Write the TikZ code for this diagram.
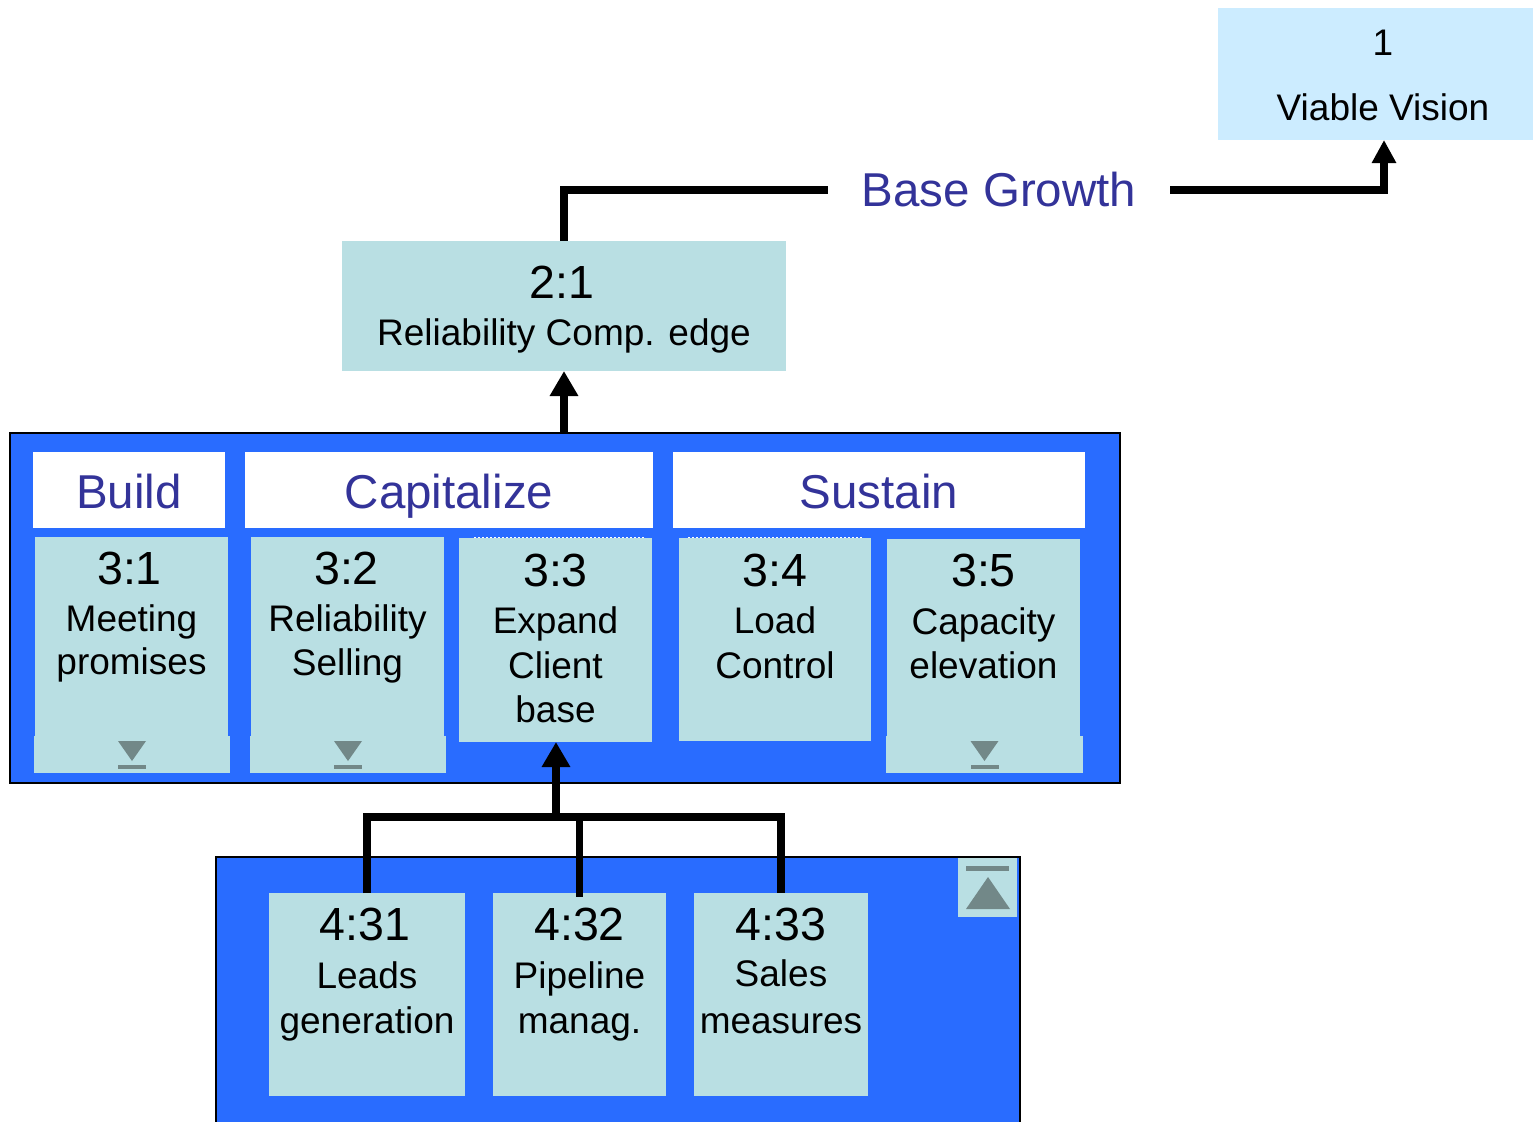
\documentclass[tikz,border=0pt]{standalone}
\usepackage{fontspec}
\setmainfont{Liberation Sans}
\usetikzlibrary{arrows.meta}
\definecolor{panelblue}{RGB}{41,108,255}
\definecolor{boxteal}{HTML}{B9DFE3}
\definecolor{visionblue}{HTML}{CCECFF}
\definecolor{hdrblue}{HTML}{333399}
\definecolor{icongray}{HTML}{728888}

\begin{document}
\begin{tikzpicture}[x=1pt,y=-1pt,
  panel/.style={draw=black, line width=2pt, fill=panelblue, inner sep=0pt, outer sep=0pt, rectangle},
  box/.style={fill=boxteal, inner sep=0pt, outer sep=0pt, rectangle},
  hdrbox/.style={fill=white, inner sep=0pt, outer sep=0pt, minimum height=76pt},
  num/.style={anchor=base, inner sep=0pt, font=\fontsize{46.5}{54}\selectfont},
  body/.style={anchor=base, inner sep=0pt, font=\fontsize{37}{44}\selectfont},
  hdr/.style={anchor=base, inner sep=0pt, text=hdrblue, font=\fontsize{47.5}{56}\selectfont},
  conn/.style={draw=black, line width=7.5pt},
  tip/.style={-{Triangle[width=27pt,length=25pt]}},
  smalltip/.style={-{Triangle[width=23pt,length=23pt]}},
  icon/.style={fill=icongray},
  dotedge/.style={draw=white, line width=1.5pt, dash pattern=on 2pt off 2pt}]

\useasboundingbox (0,0) rectangle (1533,1121);
\clip (0,0) rectangle (1533,1121);

% ---------- level 1 ----------
\node[box, fill=visionblue, minimum width=332pt, minimum height=132pt] (vv) at (1384,74) {};
\node[body] (vvnum) at (1383,56) {1};
\node[body] (vvtxt) at (1383,121) {Viable Vision};

\node[inner sep=0pt, outer sep=0pt, minimum width=342pt, minimum height=34pt,
      text=hdrblue, font=\fontsize{47.5}{56}\selectfont] (bg) at (999,190) {Base Growth};

% ---------- level 2 ----------
\node[box, minimum width=444pt, minimum height=130pt] (b21) at (564,306) {};
\node[num] (b21num) at (562,298) {2:1};
\node[body] (b21txt) at (564,345) {Reliability Comp. edge};

% ---------- level 3 panel ----------
\node[panel, minimum width=1110pt, minimum height=350pt] (p3) at (565,608) {};

\node[hdrbox, minimum width=192pt] (hbuild) at (129,490) {};
\node[hdrbox, minimum width=408pt] (hcap) at (449,490) {};
\node[hdrbox, minimum width=412pt] (hsus) at (879,490) {};
\node[hdr] (tbuild) at (129,508) {Build};
\node[hdr] (tcap) at (449,508) {Capitalize};
\node[hdr] (tsus) at (879,508) {Sustain};

% boxes with a drop-down strip underneath
\node[box, minimum width=193pt, minimum height=199pt] (b31) at (131.5,636.5) {};
\node[box, minimum width=196pt, minimum height=37pt] (s31) at (132,754.5) {};
\node[box, minimum width=193pt, minimum height=199pt] (b32) at (347.5,636.5) {};
\node[box, minimum width=196pt, minimum height=37pt] (s32) at (348,754.5) {};
\node[box, minimum width=193pt, minimum height=204pt] (b33) at (555.5,640) {};
\node[box, minimum width=192pt, minimum height=203pt] (b34) at (775,639.5) {};
\node[box, minimum width=193pt, minimum height=197pt] (b35) at (983.5,637.5) {};
\node[box, minimum width=197pt, minimum height=37pt] (s35) at (984.5,754.5) {};

\draw[dotedge] (474,537.5) -- (645,537.5);
\draw[dotedge] (688,537.5) -- (862,537.5);

\foreach \s in {s31,s32,s35}{
  \fill[icon] ([shift={(-14,-13.5)}]\s.center) -- ([shift={(14,-13.5)}]\s.center)
              -- ([shift={(0,6.5)}]\s.center) -- cycle;
  \fill[icon] ([shift={(-14,10.5)}]\s.center) rectangle ([shift={(14,14)}]\s.center);
}

\node[num] (n31) at (129.5,584) {3:1};
\node[body] (t31a) at (131.5,631) {Meeting};
\node[body] (t31b) at (131.5,674) {promises};

\node[num] (n32) at (346.5,584) {3:2};
\node[body] (t32a) at (347.5,631) {Reliability};
\node[body] (t32b) at (347.5,675) {Selling};

\node[num] (n33) at (555.5,586) {3:3};
\node[body] (t33a) at (555.5,633) {Expand};
\node[body] (t33b) at (555.5,678) {Client};
\node[body] (t33c) at (555.5,722) {base};

\node[num] (n34) at (775,586) {3:4};
\node[body] (t34a) at (775,633) {Load};
\node[body] (t34b) at (775,678) {Control};

\node[num] (n35) at (983.5,586) {3:5};
\node[body] (t35a) at (983.5,634) {Capacity};
\node[body] (t35b) at (983.5,678) {elevation};

% ---------- level 4 panel ----------
\node[panel, minimum width=804pt, minimum height=300pt] (p4) at (618,1007) {};

\node[box, minimum width=59pt, minimum height=59pt] (up) at (987.5,887.5) {};
\fill[icon] ([shift={(-21.5,-21.5)}]up.center) rectangle ([shift={(21.5,-16.5)}]up.center);
\fill[icon] ([shift={(0.5,-10.5)}]up.center) -- ([shift={(22.5,21.5)}]up.center)
            -- ([shift={(-21.5,21.5)}]up.center) -- cycle;

\node[box, minimum width=196pt, minimum height=203pt] (b431) at (367,994.5) {};
\node[box, minimum width=173pt, minimum height=203pt] (b432) at (579.5,994.5) {};
\node[box, minimum width=174pt, minimum height=203pt] (b433) at (781,994.5) {};

\node[num] (n431) at (365,940) {4:31};
\node[body] (t431a) at (367,988) {Leads};
\node[body] (t431b) at (367,1033) {generation};

\node[num] (n432) at (579.5,940) {4:32};
\node[body] (t432a) at (579.5,988) {Pipeline};
\node[body] (t432b) at (579.5,1033) {manag.};

\node[num] (n433) at (781,940) {4:33};
\node[body] (t433a) at (781,986) {Sales};
\node[body] (t433b) at (781,1033) {measures};

% ---------- connectors ----------
\coordinate (jn) at (556,817);
\draw[conn] (b431.north) |- (jn) -| (b433.north);
\draw[conn, line cap=rect] (b432.north) -- (b432.north |- jn);
\draw[conn, tip] (jn) -- (jn |- b33.south);

\draw[conn, tip] (b21.south |- p3.north) -- (b21.south);

\draw[conn] (b21.north) |- (bg.west);
\draw[conn, smalltip] (bg.east) -| (vv.south);

\end{tikzpicture}
\end{document}
